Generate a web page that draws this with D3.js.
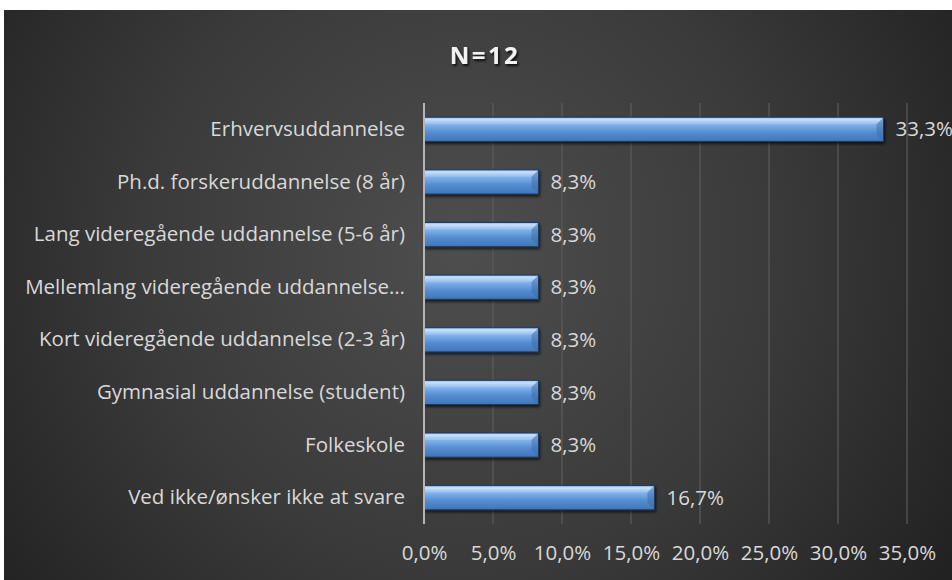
<!DOCTYPE html>
<html>
<head>
<meta charset="utf-8">
<script src="https://cdn.jsdelivr.net/npm/d3@7"></script>
<style>
  html, body { margin: 0; padding: 0; background: #ffffff; }
  svg { display: block; }
</style>
</head>
<body>
<svg id="chart" width="952" height="580"></svg>
<script>
// Education levels (top to bottom) and their share of respondents
const categories = [
  "Erhvervsuddannelse",
  "Ph.d. forskeruddannelse (8 år)",
  "Lang videregående uddannelse (5-6 år)",
  "Mellemlang videregående uddannelse…",
  "Kort videregående uddannelse (2-3 år)",
  "Gymnasial uddannelse (student)",
  "Folkeskole",
  "Ved ikke/ønsker ikke at svare"
];
const values = [33.3, 8.3, 8.3, 8.3, 8.3, 8.3, 8.3, 16.7];
const tickValues = [0, 5, 10, 15, 20, 25, 30, 35];
const title = "N=12";

const svg = d3.select("#chart");
const W = 952, H = 580;
const FONT = "'Open Sans', sans-serif";
const LABEL_SIZE = 20.5;
const fmt = v => d3.format(".1f")(v).replace(".", ",") + "%";

const defs = svg.append("defs");

// Dark chart area background with soft lighter centre
const bg = defs.append("radialGradient").attr("id", "bg")
  .attr("gradientUnits", "userSpaceOnUse")
  .attr("cx", 460).attr("cy", 250).attr("r", 580);
bg.append("stop").attr("offset", "0").attr("stop-color", "#4e4e4e");
bg.append("stop").attr("offset", "0.55").attr("stop-color", "#3a3a3a");
bg.append("stop").attr("offset", "1").attr("stop-color", "#222222");

// Bar fill: bright top highlight fading into steel blue
const barGrad = defs.append("linearGradient").attr("id", "barGrad")
  .attr("x1", 0).attr("y1", 0).attr("x2", 0).attr("y2", 1);
barGrad.append("stop").attr("offset", "0").attr("stop-color", "#6a9edb");
barGrad.append("stop").attr("offset", "0.12").attr("stop-color", "#b3d4f7");
barGrad.append("stop").attr("offset", "0.32").attr("stop-color", "#7fb0ea");
barGrad.append("stop").attr("offset", "0.62").attr("stop-color", "#558dd0");
barGrad.append("stop").attr("offset", "1").attr("stop-color", "#3f75ba");

const shadow = defs.append("filter").attr("id", "shadow")
  .attr("x", "-10%").attr("y", "-40%").attr("width", "130%").attr("height", "200%");
shadow.append("feDropShadow").attr("dx", 1).attr("dy", 2).attr("stdDeviation", 1.6)
  .attr("flood-color", "#000").attr("flood-opacity", 0.7);

const titleShadow = defs.append("filter").attr("id", "tshadow")
  .attr("x", "-20%").attr("y", "-40%").attr("width", "140%").attr("height", "180%");
titleShadow.append("feDropShadow").attr("dx", 1.5).attr("dy", 2).attr("stdDeviation", 1)
  .attr("flood-color", "#000").attr("flood-opacity", 0.8);

svg.append("rect").attr("x", 4).attr("y", 10).attr("width", W - 4).attr("height", H - 10)
  .attr("fill", "url(#bg)");

const margin = { left: 424, top: 103 };
const plotBottom = 524;
const x = d3.scaleLinear().domain([0, 35]).range([margin.left, margin.left + 483]);
const y = d3.scaleBand().domain(categories).range([margin.top, plotBottom])
  .paddingInner(0.54).paddingOuter(0.27);

// Vertical gridlines
svg.append("g").selectAll("line").data(tickValues.slice(1)).join("line")
  .attr("x1", d => x(d)).attr("x2", d => x(d))
  .attr("y1", margin.top).attr("y2", plotBottom)
  .attr("stroke", "#5c5c5c").attr("stroke-width", 1.2);

// Bottom tick labels via axis
const xAxis = svg.append("g").attr("transform", `translate(0,${plotBottom})`)
  .call(d3.axisBottom(x).tickValues(tickValues).tickFormat(fmt).tickSize(0).tickPadding(21));
xAxis.select(".domain").remove();
xAxis.selectAll("text").attr("fill", "#d9d9d9").attr("font-size", LABEL_SIZE)
  .attr("font-family", FONT);

// Category labels
const yAxis = svg.append("g").attr("transform", `translate(${margin.left},0)`)
  .call(d3.axisLeft(y).tickSize(0).tickPadding(19));
yAxis.select(".domain").remove();
yAxis.selectAll("text").attr("fill", "#d9d9d9").attr("font-size", LABEL_SIZE)
  .attr("font-family", FONT);

// Bars with bevelled ends
const bars = svg.append("g").selectAll("g").data(categories).join("g");
bars.append("rect")
  .attr("x", x(0)).attr("y", d => y(d))
  .attr("width", (d, i) => x(values[i]) - x(0)).attr("height", y.bandwidth())
  .attr("fill", "url(#barGrad)").attr("stroke", "#1f3a5e").attr("stroke-width", 1)
  .attr("filter", "url(#shadow)");
// top bevel strip
bars.append("rect")
  .attr("x", x(0) + 1).attr("y", d => y(d) + 1)
  .attr("width", (d, i) => x(values[i]) - x(0) - 2).attr("height", 2)
  .attr("fill", "#d2e6fb").attr("opacity", 0.55);
// right end bevel
bars.append("path")
  .attr("d", (d, i) => {
    const xe = x(values[i]), y0 = y(d), h = y.bandwidth(), b = 7;
    return `M${xe - 0.5},${y0 + 0.5} L${xe - b},${y0 + b} L${xe - b},${y0 + h - b} L${xe - 0.5},${y0 + h - 0.5} Z`;
  })
  .attr("fill", "#3b6aa6").attr("opacity", 0.5);
bars.append("path")
  .attr("d", (d, i) => {
    const xe = x(values[i]), y0 = y(d), b = 7;
    return `M${xe - 0.5},${y0 + 0.5} L${xe - b},${y0 + b} L${x(0) + 1},${y0 + b} L${x(0) + 1},${y0 + 0.5} Z`;
  })
  .attr("fill", "#ffffff").attr("opacity", 0.12);

// Value labels
svg.append("g").selectAll("text").data(categories).join("text")
  .attr("x", (d, i) => x(values[i]) + 12)
  .attr("y", d => y(d) + y.bandwidth() / 2)
  .attr("dy", "0.35em")
  .attr("fill", "#d9d9d9").attr("font-size", LABEL_SIZE)
  .attr("font-family", FONT)
  .text((d, i) => fmt(values[i]));

// Zero axis line
svg.append("line").attr("x1", x(0)).attr("x2", x(0))
  .attr("y1", margin.top).attr("y2", plotBottom)
  .attr("stroke", "#b5b5b5").attr("stroke-width", 2);

// Title
svg.append("text").attr("x", 485).attr("y", 64).attr("text-anchor", "middle")
  .attr("fill", "#f2f2f2").attr("font-size", 24).attr("font-weight", "bold")
  .attr("letter-spacing", 2.5)
  .attr("font-family", FONT)
  .attr("filter", "url(#tshadow)")
  .text(title);
</script>
</body>
</html>
